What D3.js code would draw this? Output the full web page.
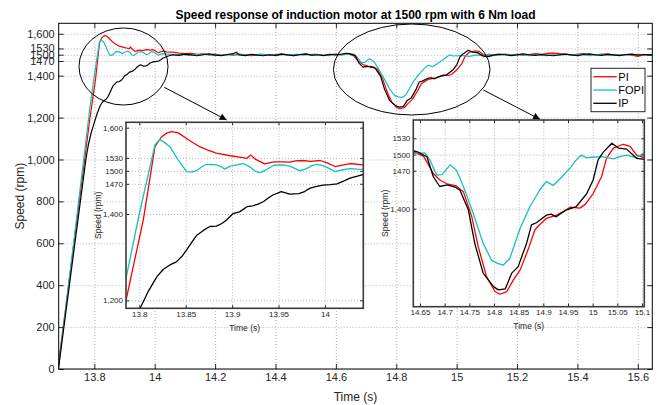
<!DOCTYPE html>
<html>
<head>
<meta charset="utf-8">
<script src="https://cdn.jsdelivr.net/npm/d3@7"></script>
<style>
  body { margin: 0; background: #fff; }
  svg { display: block; font-family: "Liberation Sans", Arial, sans-serif; }
</style>
</head>
<body>
<svg id="chart" width="659" height="405"></svg>
<script>
// ---- data (time in s, speed in rpm) ----
const seriesNames = ["PI", "FOPI", "IP"];

const piData = [
  [13.679, 0], [13.7857, 1200], [13.8043, 1386], [13.8169, 1556], [13.8241, 1579], [13.830, 1588],
  [13.835, 1591], [13.842, 1588], [13.851, 1575], [13.858, 1565], [13.865, 1556], [13.874, 1548],
  [13.883, 1541], [13.898, 1535], [13.910, 1531], [13.916, 1529], [13.920, 1537], [13.925, 1527],
  [13.935, 1516], [13.945, 1521], [13.955, 1521], [13.962, 1520], [13.968, 1523], [13.976, 1524],
  [13.985, 1522], [13.995, 1524], [14.003, 1518], [14.011, 1510], [14.020, 1514], [14.027, 1517],
  [14.040, 1514], [14.06, 1512], [14.08, 1508], [14.10, 1505], [14.12, 1507], [14.14, 1502],
  [14.16, 1504], [14.18, 1499], [14.20, 1503], [14.22, 1497], [14.24, 1501], [14.26, 1498],
  [14.28, 1503], [14.30, 1500], [14.32, 1496], [14.34, 1499], [14.36, 1502], [14.38, 1497],
  [14.40, 1500], [14.42, 1504], [14.44, 1499], [14.46, 1496], [14.48, 1500], [14.50, 1503],
  [14.52, 1498], [14.54, 1501], [14.56, 1497], [14.58, 1500], [14.60, 1503], [14.62, 1499],
  [14.636, 1505], [14.657, 1497], [14.677, 1465], [14.690, 1453], [14.705, 1446], [14.724, 1442],
  [14.738, 1431], [14.755, 1385], [14.768, 1330], [14.785, 1274], [14.802, 1247], [14.812, 1242],
  [14.826, 1247], [14.839, 1268], [14.853, 1287], [14.869, 1324], [14.883, 1361], [14.892, 1370],
  [14.906, 1382], [14.927, 1388], [14.947, 1398], [14.955, 1403], [14.974, 1401], [14.985, 1408],
  [15.001, 1428], [15.018, 1459], [15.028, 1493], [15.042, 1512], [15.062, 1519], [15.076, 1515],
  [15.089, 1499], [15.105, 1494], [15.12, 1496], [15.14, 1500], [15.16, 1503], [15.18, 1499],
  [15.20, 1502], [15.22, 1498], [15.24, 1501], [15.26, 1505], [15.28, 1502], [15.30, 1506],
  [15.32, 1508], [15.34, 1505], [15.36, 1503], [15.38, 1499], [15.40, 1502], [15.42, 1505],
  [15.44, 1501], [15.46, 1498], [15.48, 1502], [15.50, 1504], [15.52, 1500], [15.54, 1497],
  [15.56, 1501], [15.58, 1498], [15.60, 1492], [15.62, 1500], [15.648, 1497]
];

const fopiData = [
  [13.681, 0], [13.7857, 1251], [13.800, 1400], [13.8169, 1560], [13.822, 1573], [13.827, 1566],
  [13.833, 1556], [13.842, 1525], [13.851, 1498], [13.857, 1497], [13.862, 1501], [13.867, 1509],
  [13.871, 1514], [13.877, 1515], [13.883, 1514], [13.888, 1510], [13.892, 1504], [13.898, 1511],
  [13.905, 1514], [13.912, 1517], [13.920, 1508], [13.925, 1499], [13.930, 1496], [13.937, 1503],
  [13.945, 1513], [13.955, 1514], [13.962, 1511], [13.968, 1505], [13.973, 1500], [13.980, 1505],
  [13.986, 1512], [13.991, 1515], [13.998, 1512], [14.005, 1505], [14.011, 1498], [14.018, 1502],
  [14.027, 1505], [14.035, 1504], [14.05, 1503], [14.07, 1498], [14.09, 1502], [14.11, 1497],
  [14.13, 1501], [14.15, 1499], [14.17, 1503], [14.19, 1498], [14.21, 1500], [14.23, 1497],
  [14.25, 1502], [14.27, 1499], [14.29, 1501], [14.31, 1496], [14.33, 1500], [14.35, 1503],
  [14.37, 1498], [14.39, 1500], [14.41, 1497], [14.43, 1501], [14.45, 1499], [14.47, 1502],
  [14.49, 1498], [14.51, 1500], [14.53, 1503], [14.55, 1499], [14.57, 1497], [14.59, 1501],
  [14.61, 1500], [14.636, 1502], [14.660, 1503], [14.670, 1490], [14.684, 1462], [14.695, 1463],
  [14.711, 1481], [14.724, 1471], [14.738, 1441], [14.758, 1391], [14.778, 1336], [14.795, 1305],
  [14.807, 1299], [14.819, 1296], [14.832, 1308], [14.853, 1364], [14.873, 1404], [14.893, 1435],
  [14.906, 1450], [14.920, 1443], [14.937, 1458], [14.954, 1475], [14.967, 1490], [14.977, 1499],
  [14.988, 1494], [14.998, 1495], [15.020, 1496], [15.042, 1492], [15.055, 1496], [15.069, 1499],
  [15.089, 1494], [15.105, 1503], [15.12, 1500], [15.14, 1497], [15.16, 1501], [15.18, 1498],
  [15.20, 1502], [15.22, 1499], [15.24, 1496], [15.26, 1500], [15.28, 1497], [15.30, 1495],
  [15.32, 1499], [15.34, 1497], [15.36, 1501], [15.38, 1498], [15.40, 1502], [15.42, 1499],
  [15.44, 1496], [15.46, 1500], [15.48, 1503], [15.50, 1499], [15.52, 1497], [15.54, 1501],
  [15.56, 1498], [15.58, 1502], [15.60, 1499], [15.62, 1501], [15.648, 1498]
];

const ipData = [
  [13.681, 0], [13.772, 1000], [13.780, 1069], [13.790, 1130], [13.8008, 1181], [13.810, 1222],
  [13.819, 1255], [13.826, 1272], [13.833, 1282], [13.840, 1289], [13.846, 1302], [13.851, 1317],
  [13.857, 1336], [13.862, 1351], [13.869, 1362], [13.876, 1371], [13.883, 1372], [13.889, 1378],
  [13.894, 1386], [13.901, 1401], [13.908, 1405], [13.916, 1417], [13.922, 1419], [13.928, 1423],
  [13.934, 1429], [13.939, 1437], [13.944, 1444], [13.953, 1452], [13.962, 1446], [13.972, 1447],
  [13.978, 1452], [13.984, 1460], [13.991, 1464], [13.998, 1467], [14.006, 1468], [14.013, 1470],
  [14.020, 1476], [14.027, 1483], [14.035, 1488], [14.045, 1494], [14.06, 1500], [14.08, 1497],
  [14.10, 1503], [14.12, 1499], [14.14, 1495], [14.16, 1500], [14.18, 1504], [14.20, 1498],
  [14.22, 1496], [14.24, 1501], [14.26, 1505], [14.27, 1512], [14.28, 1499], [14.30, 1496],
  [14.32, 1502], [14.34, 1498], [14.36, 1495], [14.38, 1500], [14.40, 1497], [14.42, 1503],
  [14.44, 1499], [14.46, 1496], [14.48, 1501], [14.50, 1504], [14.52, 1498], [14.54, 1500],
  [14.56, 1496], [14.58, 1502], [14.60, 1499], [14.62, 1503], [14.636, 1507], [14.645, 1505],
  [14.664, 1496], [14.677, 1459], [14.690, 1441], [14.705, 1444], [14.721, 1440], [14.731, 1434],
  [14.748, 1398], [14.761, 1336], [14.778, 1281], [14.799, 1256], [14.809, 1250], [14.823, 1252],
  [14.836, 1281], [14.849, 1293], [14.866, 1336], [14.876, 1370], [14.886, 1374], [14.906, 1388],
  [14.916, 1390], [14.926, 1385], [14.947, 1398], [14.967, 1404], [14.988, 1428], [15.001, 1453],
  [15.011, 1490], [15.022, 1505], [15.039, 1521], [15.052, 1512], [15.069, 1510], [15.089, 1493],
  [15.105, 1491], [15.12, 1498], [15.14, 1503], [15.16, 1500], [15.18, 1496], [15.20, 1499],
  [15.22, 1504], [15.24, 1500], [15.26, 1497], [15.28, 1501], [15.30, 1498], [15.32, 1495],
  [15.34, 1500], [15.36, 1503], [15.38, 1499], [15.40, 1496], [15.42, 1501], [15.44, 1504],
  [15.46, 1500], [15.48, 1497], [15.50, 1502], [15.52, 1499], [15.54, 1496], [15.56, 1501],
  [15.58, 1503], [15.60, 1498], [15.62, 1501], [15.648, 1499]
];

// ---- ticks ----
const mainXTicks = [13.8, 14, 14.2, 14.4, 14.6, 14.8, 15, 15.2, 15.4, 15.6];
const mainYTicks = [0, 200, 400, 600, 800, 1000, 1200, 1400, 1470, 1500, 1530, 1600];
const mainYLabels = ["0", "200", "400", "600", "800", "1,000", "1,200", "1,400", "1470", "1500", "1530", "1,600"];
const zoom1XTicks = [13.8, 13.85, 13.9, 13.95, 14];
const zoom1YTicks = [1200, 1400, 1470, 1500, 1530, 1600];
const zoom1YLabels = ["1,200", "1,400", "1470", "1500", "1530", "1,600"];
const zoom2XTicks = [14.65, 14.7, 14.75, 14.8, 14.85, 14.9, 14.95, 15, 15.05, 15.1];
const zoom2YTicks = [1400, 1470, 1500, 1530];
const zoom2YLabels = ["1,400", "1470", "1500", "1530"];

const colors = ["#ff0000", "#17bfbf", "#000000"];
const allSeries = [piData, fopiData, ipData];

const svg = d3.select("#chart");
const fmtT = d => String(+d.toFixed(2));

const defs = svg.append("defs");
defs.append("marker")
    .attr("id", "arrow")
    .attr("viewBox", "0 0 10 10")
    .attr("refX", 10).attr("refY", 5)
    .attr("markerWidth", 9).attr("markerHeight", 7)
    .attr("markerUnits", "userSpaceOnUse")
    .attr("orient", "auto")
  .append("path")
    .attr("d", "M0,0L10,5L0,10z")
    .attr("fill", "#000");

function drawPanel(cfg) {
    const x = d3.scaleLinear().domain(cfg.xDomain).range([cfg.left, cfg.right]);
    const y = d3.scaleLinear().domain(cfg.yDomain).range([cfg.bottom, cfg.top]);
    const w = cfg.right - cfg.left;
    const h = cfg.bottom - cfg.top;
    const g = svg.append("g");

    g.append("rect")
        .attr("x", cfg.left).attr("y", cfg.top)
        .attr("width", w).attr("height", h)
        .attr("fill", "#fff");

    // grid
    const styleGrid = s => {
        s.select(".domain").remove();
        s.selectAll("line").attr("stroke", "#b4b4b4").attr("stroke-dasharray", "1,2");
    };
    g.append("g")
        .attr("transform", `translate(0,${cfg.bottom})`)
        .call(d3.axisBottom(x).tickValues(cfg.xTicks).tickSize(-h).tickFormat(""))
        .call(styleGrid);
    g.append("g")
        .attr("transform", `translate(${cfg.left},0)`)
        .call(d3.axisLeft(y).tickValues(cfg.yTicks).tickSize(-w).tickFormat(""))
        .call(styleGrid);

    // lines
    const clipId = "clip-" + cfg.id;
    defs.append("clipPath").attr("id", clipId)
      .append("rect")
        .attr("x", cfg.left).attr("y", cfg.top)
        .attr("width", w).attr("height", h);

    const line = d3.line().x(d => x(d[0])).y(d => y(d[1]));
    g.append("g")
        .attr("clip-path", `url(#${clipId})`)
      .selectAll("path")
      .data(allSeries)
      .join("path")
        .attr("d", line)
        .attr("fill", "none")
        .attr("stroke", (d, i) => colors[i])
        .attr("stroke-width", cfg.lineWidth)
        .attr("stroke-linejoin", "round");

    // axes, ticks pointing inward
    const styleAxis = s => {
        s.select(".domain").remove();
        s.selectAll("line").attr("stroke", "#262626");
        s.selectAll("text")
            .attr("fill", "#262626")
            .attr("font-size", cfg.fontSize)
            .attr("font-family", "Liberation Sans, Arial, sans-serif");
    };
    g.append("g")
        .attr("transform", `translate(0,${cfg.bottom})`)
        .call(d3.axisBottom(x).tickValues(cfg.xTicks).tickSizeInner(-cfg.tick).tickSizeOuter(0)
            .tickPadding(cfg.pad).tickFormat(fmtT))
        .call(styleAxis);
    g.append("g")
        .attr("transform", `translate(0,${cfg.top})`)
        .call(d3.axisTop(x).tickValues(cfg.xTicks).tickSizeInner(-cfg.tick).tickSizeOuter(0).tickFormat(""))
        .call(styleAxis);
    g.append("g")
        .attr("transform", `translate(${cfg.left},0)`)
        .call(d3.axisLeft(y).tickValues(cfg.yTicks).tickSizeInner(-cfg.tick).tickSizeOuter(0)
            .tickPadding(cfg.pad).tickFormat((d, i) => cfg.yLabels[i]))
        .call(styleAxis);
    g.append("g")
        .attr("transform", `translate(${cfg.right},0)`)
        .call(d3.axisRight(y).tickValues(cfg.yTicks).tickSizeInner(-cfg.tick).tickSizeOuter(0).tickFormat(""))
        .call(styleAxis);

    g.append("rect")
        .attr("x", cfg.left).attr("y", cfg.top)
        .attr("width", w).attr("height", h)
        .attr("fill", "none")
        .attr("stroke", cfg.boxColor)
        .attr("stroke-width", cfg.boxWidth);

    g.append("text")
        .attr("x", (cfg.left + cfg.right) / 2)
        .attr("y", cfg.xLabelY)
        .attr("text-anchor", "middle")
        .attr("font-size", cfg.labelSize)
        .attr("fill", "#262626")
        .text("Time (s)");

    g.append("text")
        .attr("transform", `translate(${cfg.yLabelX},${(cfg.top + cfg.bottom) / 2}) rotate(-90)`)
        .attr("text-anchor", "middle")
        .attr("font-size", cfg.labelSize)
        .attr("fill", "#262626")
        .text("Speed (rpm)");

    return { x, y, g };
}

// main chart
const main = drawPanel({
    id: "main", left: 58.7, right: 652.3, top: 23.3, bottom: 369,
    xDomain: [13.682, 15.648], yDomain: [0, 1650],
    xTicks: mainXTicks, yTicks: mainYTicks, yLabels: mainYLabels,
    fontSize: 11, labelSize: 12, tick: 5, pad: 4, lineWidth: 1.2,
    boxColor: "#000", boxWidth: 1, xLabelY: 401, yLabelX: 24
});

svg.append("text")
    .attr("x", (58.7 + 652.3) / 2)
    .attr("y", 19)
    .attr("text-anchor", "middle")
    .attr("font-size", 12)
    .attr("font-weight", "bold")
    .attr("fill", "#000")
    .text("Speed response of induction motor at 1500 rpm with 6 Nm load");

// ellipses and arrows
svg.append("ellipse")
    .attr("cx", 123.5).attr("cy", 66.5).attr("rx", 44.5).attr("ry", 38.5)
    .attr("fill", "none").attr("stroke", "#000").attr("stroke-width", 1);
svg.append("ellipse")
    .attr("cx", 411.7).attr("cy", 69.5).attr("rx", 78.3).attr("ry", 45.5)
    .attr("fill", "none").attr("stroke", "#000").attr("stroke-width", 1);
svg.append("line")
    .attr("x1", 164.3).attr("y1", 87.3).attr("x2", 226.7).attr("y2", 120)
    .attr("stroke", "#000").attr("marker-end", "url(#arrow)");
svg.append("line")
    .attr("x1", 483.3).attr("y1", 90).attr("x2", 540).attr("y2", 119.3)
    .attr("stroke", "#000").attr("marker-end", "url(#arrow)");

// zoom insets
drawPanel({
    id: "zoom1", left: 126, right: 363.3, top: 122.3, bottom: 308.3,
    xDomain: [13.7857, 14.0413], yDomain: [1181.5, 1612.5],
    xTicks: zoom1XTicks, yTicks: zoom1YTicks, yLabels: zoom1YLabels,
    fontSize: 8, labelSize: 8.5, tick: 3, pad: 3, lineWidth: 1.3,
    boxColor: "#3a3a3a", boxWidth: 1.6, xLabelY: 331, yLabelX: 101
});
drawPanel({
    id: "zoom2", left: 413.3, right: 644.3, top: 120, bottom: 306.7,
    xDomain: [14.6364, 15.1047], yDomain: [1219, 1563.8],
    xTicks: zoom2XTicks, yTicks: zoom2YTicks, yLabels: zoom2YLabels,
    fontSize: 8, labelSize: 8.5, tick: 3, pad: 3, lineWidth: 1.3,
    boxColor: "#3a3a3a", boxWidth: 1.6, xLabelY: 329, yLabelX: 388
});

// legend
const legend = svg.append("g");
legend.append("rect")
    .attr("x", 591).attr("y", 68.3).attr("width", 54).attr("height", 43.4)
    .attr("fill", "#fff").attr("stroke", "#262626").attr("stroke-width", 1);
const entries = legend.selectAll("g.entry")
    .data(seriesNames)
    .join("g")
    .attr("class", "entry")
    .attr("transform", (d, i) => `translate(0,${76.7 + i * 13.3})`);
entries.append("line")
    .attr("x1", 593.3).attr("x2", 616.7)
    .attr("stroke", (d, i) => colors[i]).attr("stroke-width", 1.3);
entries.append("text")
    .attr("x", 618.3).attr("dy", "0.35em")
    .attr("font-size", 11).attr("fill", "#000")
    .text(d => d);
</script>
</body>
</html>
